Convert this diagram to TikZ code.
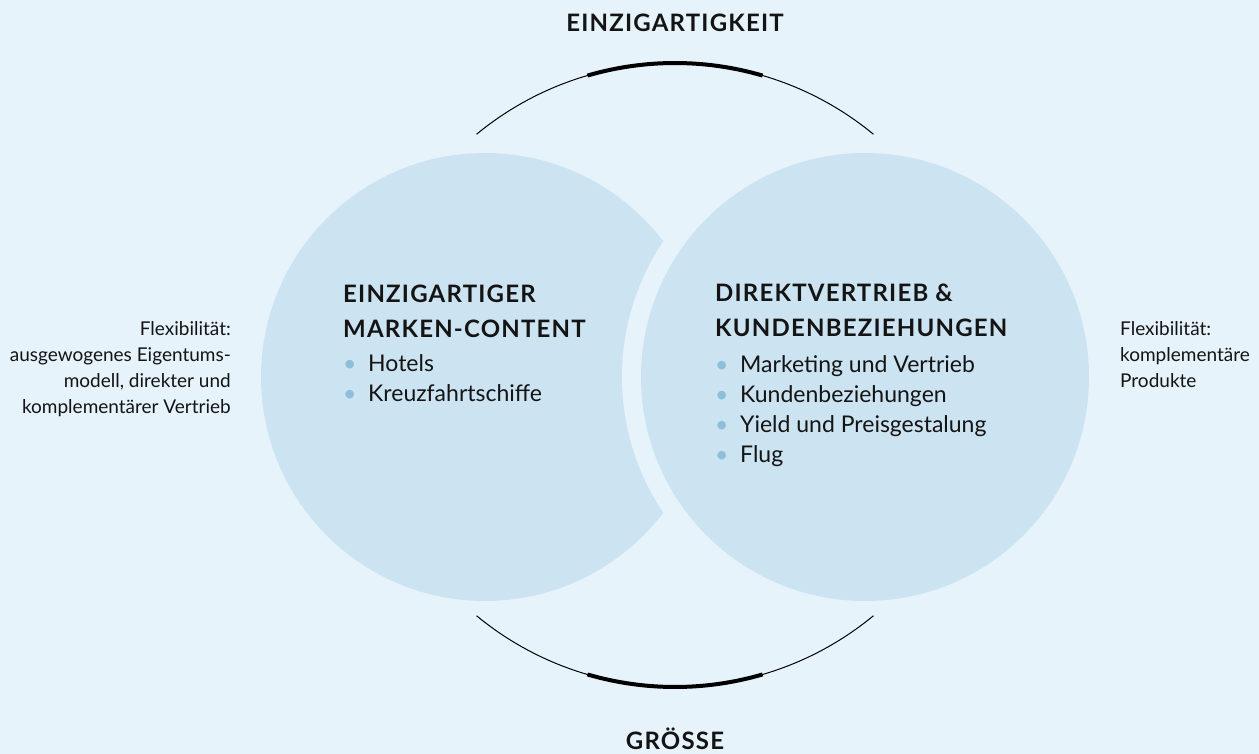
\documentclass[tikz,border=0pt]{standalone}
\usepackage{fontspec}
\usepackage{xcolor}
\usepackage{tikz}
\setmainfont{Lato}
\newfontfamily\headfont[LetterSpace=5]{Lato}
\definecolor{bgblue}{HTML}{E6F3FB}
\definecolor{circblue}{HTML}{CCE3F1}
\definecolor{dotblue}{HTML}{8DBFDA}
\definecolor{inkblack}{HTML}{141414}
\newcommand{\itm}[1]{\makebox[25pt][l]{\textcolor{dotblue}{\textbullet}}#1}

\begin{document}
\begin{tikzpicture}[x=1pt,y=-1pt,
bubble/.style={fill=circblue},
heading/.style={anchor=base west, inner sep=0pt, align=left, text=inkblack, font=\headfont\bfseries\fontsize{24}{34.5}\selectfont},
itemlist/.style={anchor=base west, inner sep=0pt, align=left, text=inkblack, font=\fontsize{23}{30}\selectfont},
sidenote/.style={inner sep=0pt, text=inkblack, font=\fontsize{19}{25.8}\selectfont},
title/.style={anchor=base, inner sep=0pt, text=inkblack, font=\headfont\bfseries\fontsize{24}{30}\selectfont},
thinarc/.style={draw=black, line width=1pt},
thickarc/.style={draw=black, line width=4pt},
]
%Background
\fill[bgblue] (0,0) rectangle (1259,754);
\useasboundingbox (0,0) rectangle (1259,754);

%Circles
\coordinate (Unique) at (485,377);
\coordinate (Direct) at (865,377);
\coordinate (Hub) at (675,375);
\fill[bubble] (Unique) circle[radius=224pt];
\fill[bgblue] (Direct) circle[radius=243pt];
\fill[bubble] (Direct) circle[radius=224pt];

%Arcs
\draw[thinarc] ([shift={(50.5:312pt)}]Hub) arc[start angle=50.5, end angle=129.5, radius=312pt];
\draw[thickarc] ([shift={(73.7:312pt)}]Hub) arc[start angle=73.7, end angle=106.3, radius=312pt];
\draw[thinarc] ([shift={(-129.5:312pt)}]Hub) arc[start angle=-129.5, end angle=-50.5, radius=312pt];
\draw[thickarc] ([shift={(-106.3:312pt)}]Hub) arc[start angle=-106.3, end angle=-73.7, radius=312pt];

%Nodes
\node[title] (Uniqueness) at (675,32) {EINZIGARTIGKEIT};
\node[title] (Size) at (675,749) {GRÖSSE};

\node[heading] (UniqueHead) at (343,337) {EINZIGARTIGER\\MARKEN-CONTENT};
\node[itemlist] (UniqueItems) at (343,401) {\itm{Hotels}\\\itm{Kreuzfahrtschiffe}};

\node[heading] (DirectHead) at (715,336) {DIREKTVERTRIEB \&\\KUNDENBEZIEHUNGEN};
\node[itemlist] (DirectItems) at (715,462) {\itm{Marketing und Vertrieb}\\\itm{Kundenbeziehungen}\\\itm{Yield und Preisgestalung}\\\itm{Flug}};

\node[sidenote, anchor=base east, align=right] (LeftNote) at (231,413) {Flexibilität:\\ausgewogenes Eigentums-\\modell, direkter und\\komplementärer Vertrieb};
\node[sidenote, anchor=base west, align=left] (RightNote) at (1120,387) {Flexibilität:\\komplementäre\\Produkte};
\end{tikzpicture}
\end{document}
